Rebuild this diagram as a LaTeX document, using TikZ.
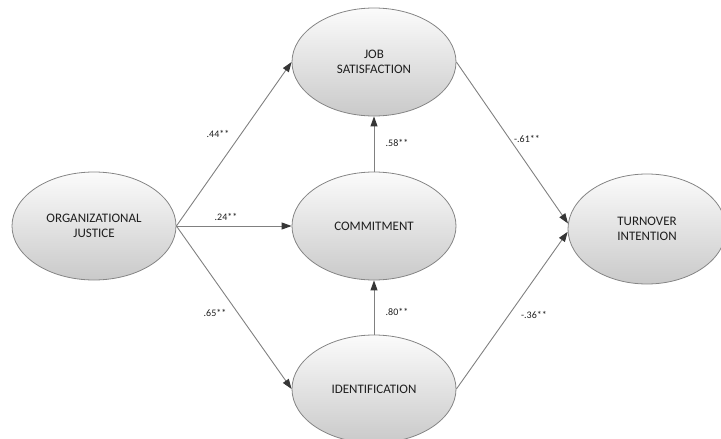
\documentclass[tikz,border=0pt]{standalone}
\usepackage{fontspec}
\setmainfont{Carlito}
\usetikzlibrary{arrows.meta,shapes.geometric}
\definecolor{edgegray}{HTML}{808080}
\definecolor{tipgray}{HTML}{363636}
\definecolor{rimgray}{HTML}{858585}
\definecolor{txtgray}{HTML}{1E1E1E}
\tikzset{
  construct/.style={ellipse, draw=rimgray, line width=0.8pt, top color=gray!3, bottom color=gray!42,
    minimum width=164pt, minimum height=108pt, inner sep=0pt, align=center,
    font=\fontsize{13}{15}\selectfont, text=txtgray},
  path/.style={draw=edgegray, line width=0.9pt, -{Triangle[length=10pt,width=7pt,color=tipgray]}},
  coef/.style={font=\fontsize{10}{12}\selectfont, text=txtgray, inner sep=0pt}
}
\begin{document}
\begin{tikzpicture}[x=1pt,y=-1pt]
\useasboundingbox (0,0) rectangle (721,439);
\node[construct] (oj) at (94,226) {ORGANIZATIONAL\\JUSTICE};
\node[construct] (js) at (374,62) {JOB\\SATISFACTION};
\node[construct] (com) at (374,226) {COMMITMENT};
\node[construct] (id) at (374,389) {IDENTIFICATION};
\node[construct, minimum width=158pt, minimum height=110pt] (ti) at (647,229) {TURNOVER\\INTENTION};

\draw[path] (oj.east) -- (js.west);
\draw[path] (oj.east) -- (com.west);
\draw[path] (oj.east) -- (id.west);
\draw[path] (com.north) -- (js.south);
\draw[path] (id.north) -- (com.south);
\draw[path] (js.east) -- (ti.176);
\draw[path] (id.east) -- (ti.182);

\node[coef] (l44) at (218,134) {.44**};
\node[coef] (l24) at (226,217) {.24**};
\node[coef] (l65) at (215,313) {.65**};
\node[coef] (l58) at (397,143) {.58**};
\node[coef] (l80) at (397,312) {.80**};
\node[coef] (l61) at (527,139) {-.61**};
\node[coef] (l36) at (534,315) {-.36**};
\end{tikzpicture}
\end{document}
